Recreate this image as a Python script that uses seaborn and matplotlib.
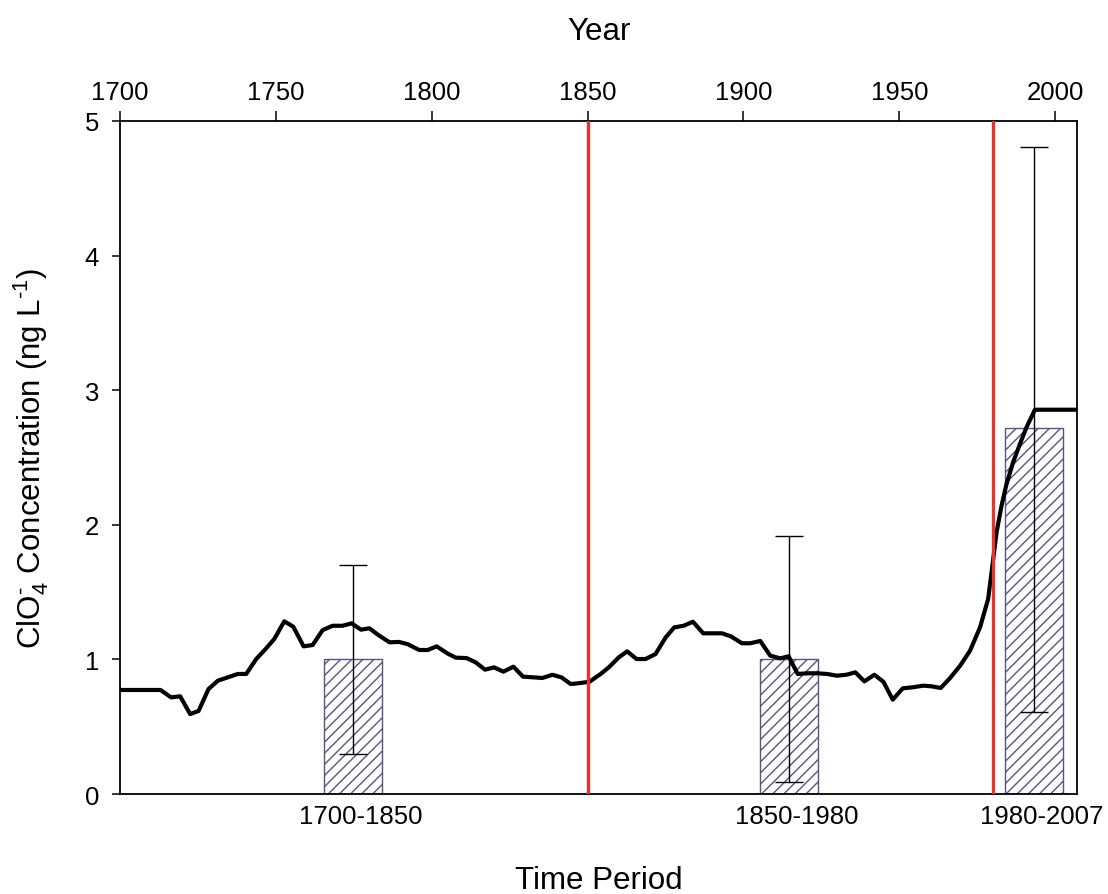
import matplotlib
matplotlib.use("Agg")
import matplotlib.pyplot as plt
import seaborn as sns
import numpy as np
import pandas as pd

# Perchlorate record (year, concentration in ng/L)
years = [1700, 1713, 1716.4, 1719.3, 1722.5, 1725.2, 1728.4, 1731.4, 1734.6, 1737.8,
         1740.5, 1743.7, 1746.5, 1749.5, 1752.7, 1755.6, 1758.9, 1761.8, 1765.0, 1768.2,
         1771.4, 1774.3, 1777.3, 1780.0, 1783.2, 1786.5, 1789.5, 1792.2, 1796.0, 1798.7,
         1801.6, 1805.0, 1807.7, 1811.2, 1814.1, 1817.1, 1820.0, 1823.0, 1826.2, 1829.3,
         1832.5, 1835.5, 1838.7, 1841.6, 1844.6, 1847.8, 1850.6, 1854.2, 1856.8, 1860.0,
         1862.7, 1865.7, 1868.6, 1871.8, 1875.0, 1877.8, 1880.8, 1883.8, 1887.1, 1889.9,
         1893.1, 1896.0, 1899.5, 1902.2, 1905.4, 1908.6, 1911.8, 1914.5, 1917.4, 1920.6,
         1923.6, 1926.8, 1930.0, 1933.0, 1935.9, 1938.8, 1942.0, 1944.9, 1947.9, 1951.1,
         1954.3, 1957.7, 1960.4, 1963.3, 1966.3, 1969.5, 1972.7, 1975.9, 1978.5, 1979.6,
         1981.2, 1982.8, 1984.4, 1986.5, 1988.7, 1990.8, 1993.5, 2007]
concentration = [0.773, 0.773, 0.718, 0.726, 0.594, 0.617, 0.780, 0.842, 0.867, 0.892,
                 0.892, 1.003, 1.072, 1.152, 1.283, 1.243, 1.097, 1.107, 1.218, 1.250,
                 1.250, 1.268, 1.221, 1.231, 1.176, 1.127, 1.130, 1.114, 1.070, 1.070,
                 1.097, 1.045, 1.013, 1.010, 0.978, 0.924, 0.941, 0.909, 0.946, 0.872,
                 0.867, 0.862, 0.886, 0.867, 0.817, 0.825, 0.834, 0.892, 0.941, 1.015,
                 1.060, 1.003, 1.003, 1.040, 1.162, 1.238, 1.250, 1.280, 1.194, 1.194,
                 1.194, 1.171, 1.120, 1.120, 1.137, 1.028, 1.008, 1.023, 0.892, 0.897,
                 0.897, 0.892, 0.879, 0.886, 0.904, 0.837, 0.886, 0.834, 0.701, 0.785,
                 0.793, 0.805, 0.800, 0.788, 0.862, 0.953, 1.065, 1.238, 1.449, 1.647,
                 1.944, 2.142, 2.303, 2.464, 2.600, 2.724, 2.855, 2.855]

# Period means with their ranges
periods = ["1700-1850", "1850-1980", "1980-2007"]
period_centers = [1774.8, 1914.7, 1993.3]
period_means = [1.00, 1.00, 2.72]
period_low = [0.30, 0.09, 0.61]
period_high = [1.70, 1.92, 4.81]

# Period boundaries
boundaries = [1850, 1980]
year_ticks = [1700, 1750, 1800, 1850, 1900, 1950, 2000]

sns.set_style("ticks")
plt.rcParams["font.family"] = ["Liberation Sans", "DejaVu Sans"]
plt.rcParams["mathtext.fontset"] = "custom"
plt.rcParams["mathtext.rm"] = "Liberation Sans"
plt.rcParams["mathtext.it"] = "Liberation Sans:italic"
plt.rcParams["hatch.linewidth"] = 1.0
for key in ["text.color", "axes.labelcolor", "xtick.color", "ytick.color"]:
    plt.rcParams[key] = "black"

fig = plt.figure(figsize=(11.08, 8.95), dpi=100)
ax = fig.add_axes([0.1083, 0.1117, 0.8637, 0.752])

df = pd.DataFrame({"Year": years, "Conc": concentration})
means = np.array(period_means)
yerr = [means - np.array(period_low), np.array(period_high) - means]

bar_color = "#555483"
ax.bar(period_centers, period_means, width=18.6, facecolor="white",
       edgecolor=bar_color, hatch="///", linewidth=1.0, zorder=2)
ax.errorbar(period_centers, period_means, yerr=yerr, fmt="none", ecolor="black",
            elinewidth=1.0, capsize=10, capthick=1.0, zorder=3)

sns.lineplot(data=df, x="Year", y="Conc", ax=ax, color="black", linewidth=3.0,
             sort=False, estimator=None, zorder=4)

for b in boundaries:
    ax.axvline(b, color="#e8322c", linewidth=2.4, zorder=5)

ax.set_xlim(1700, 2007)
ax.set_ylim(0, 5)

# Year axis on top
ax.xaxis.tick_top()
ax.xaxis.set_label_position("top")
ax.set_xticks(year_ticks)
ax.set_xticklabels([str(y) for y in year_ticks])
ax.tick_params(axis="x", which="both", top=True, bottom=False, length=7.5, width=1.1,
               direction="out", labelsize=18.5, pad=4.5, colors="black")
ax.set_xlabel("Year", fontsize=22.5, labelpad=30)

ax.set_yticks([0, 1, 2, 3, 4, 5])
ax.tick_params(axis="y", length=6, width=1.1, direction="out", labelsize=18.5, pad=9,
               colors="black")
ax.set_ylabel(r"ClO$_4^{\text{-}}$ Concentration (ng L$^{\text{-}1}$)",
              fontsize=22.5, labelpad=24)

for s in ax.spines.values():
    s.set_visible(True)
    s.set_linewidth(1.3)
    s.set_color("black")

# Time-period axis on the bottom
sec = ax.secondary_xaxis("bottom")
sec.set_xticks([c + 2.5 for c in period_centers])
sec.set_xticklabels(periods)
sec.tick_params(length=0, labelsize=18.5, pad=7, colors="black")
sec.spines["bottom"].set_visible(False)
sec.set_xlabel("Time Period", fontsize=22.5, labelpad=27)

ax.set_facecolor("white")
fig.patch.set_facecolor("white")
fig.savefig("out.png", dpi=100)
